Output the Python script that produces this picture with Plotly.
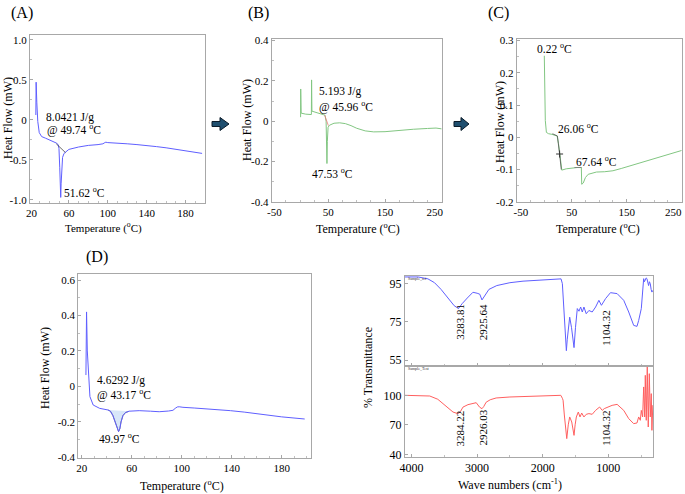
import plotly.graph_objects as go

W, H = 685, 494
FONT = "'Liberation Serif', 'Times New Roman', Times, serif"
NB = "\u00a0"

# ---------------- data ----------------
# (A) DSC
A_temp = [26.0, 26.3, 27.0, 28.0, 29.5, 32, 36, 40, 44, 47, 49, 49.8, 50.6, 51.2, 51.6, 52.0, 52.6, 53.5, 55, 57, 60, 70, 80, 90, 95, 97, 98, 100, 110, 120, 130, 140, 150, 160, 170, 180, 190, 197]
A_heat = [0.06, 0.47, 0.22, -0.02, -0.16, -0.21, -0.23, -0.25, -0.27, -0.29, -0.31, -0.36, -0.6, -0.85, -0.97, -0.8, -0.6, -0.47, -0.42, -0.40, -0.37, -0.34, -0.32, -0.31, -0.30, -0.285, -0.28, -0.285, -0.29, -0.30, -0.31, -0.32, -0.335, -0.35, -0.37, -0.39, -0.41, -0.42]
A_base_temp = [47.0, 56.5]
A_base_heat = [-0.30, -0.41]

# (B) DSC
B_temp = [1.0, 1.2, 2.0, 10, 20, 20.4, 21.0, 30, 40, 44, 46, 47.0, 47.5, 48.2, 49.5, 52, 60, 70, 80, 90, 100, 115, 130, 150, 175, 200, 225, 240, 250]
B_heat = [0.02, 0.16, 0.04, 0.035, 0.033, 0.205, 0.05, 0.042, 0.035, 0.03, 0.0, -0.15, -0.21, -0.1, -0.03, -0.02, -0.01, -0.008, -0.012, -0.022, -0.035, -0.048, -0.053, -0.052, -0.045, -0.04, -0.036, -0.034, -0.038]
B_mark_temp = [43.5, 47.0, 50.0]
B_mark_heat = [0.03, 0.0, -0.022]

# (C) DSC
C_temp = [0.2, 1.0, 2.0, 4.0, 8, 14, 20, 23.5, 26, 28, 30.5, 32, 40, 50, 60, 67.5, 68.2, 71, 75, 80, 95, 110, 125, 140, 160, 180, 200, 220, 240, 250]
C_heat = [0.253, 0.15, 0.052, 0.015, 0.011, 0.009, 0.007, 0.004, -0.02, -0.052, -0.1, -0.102, -0.098, -0.095, -0.094, -0.094, -0.146, -0.142, -0.125, -0.115, -0.108, -0.107, -0.104, -0.097, -0.087, -0.078, -0.068, -0.058, -0.048, -0.041]
C_mark1_temp = [15, 24, 28, 31]
C_mark1_heat = [0.011, 0.004, -0.052, -0.1]
C_mark2_temp = [55, 68]
C_mark2_heat = [-0.094, -0.094]
C_xticks = [-50, 50, 150, 250]

# (D) DSC
D_temp = [23.4, 23.9, 24.5, 25.2, 26.6, 29.2, 34.4, 41, 43, 45, 47, 48.5, 49.5, 50.5, 51.5, 53, 55, 58, 66, 75, 82, 89.5, 93, 94.8, 96.5, 98, 101, 110, 124, 139, 150, 165, 180, 198.4]
D_heat = [0.064, 0.42, 0.2, 0.083, -0.058, -0.105, -0.124, -0.133, -0.14, -0.165, -0.21, -0.245, -0.255, -0.24, -0.2, -0.165, -0.148, -0.14, -0.137, -0.14, -0.143, -0.139, -0.135, -0.124, -0.116, -0.115, -0.118, -0.122, -0.128, -0.137, -0.145, -0.16, -0.172, -0.184]
D_peak_from, D_peak_to = 41, 58

# (E) FTIR
wn_top = [4100, 3900, 3750, 3650, 3550, 3450, 3350, 3284, 3230, 3150, 3064, 3000, 2960, 2926, 2880, 2820, 2700, 2500, 2300, 2000, 1800, 1720, 1700, 1685, 1665, 1650, 1639, 1625, 1600, 1588, 1560, 1540, 1522, 1500, 1472, 1446, 1421, 1396, 1371, 1336, 1295, 1245, 1193, 1143, 1104, 1041, 966, 865, 764, 688, 612, 562, 536, 496, 470, 460, 448, 435, 422, 410, 398, 385, 372, 359, 346, 334, 320]
T_top = [98.5, 98.5, 97.5, 95.5, 92, 88, 83.5, 82, 84.5, 87.5, 90.5, 90, 89.5, 86.5, 89, 92, 94, 95.5, 96.3, 97, 97.5, 97.5, 95, 85, 72, 63, 60, 66, 76, 77.5, 72, 65, 61.6, 72, 82, 80.6, 82.8, 80.2, 82.8, 79.3, 81, 80.2, 82.8, 86.3, 83.7, 87.2, 90.3, 89.8, 86.3, 80.2, 73.2, 72.7, 75.8, 82, 93, 97.6, 96, 96.7, 98, 97.6, 95, 94, 96, 95, 92, 90.6, 91.5]
wn_bot = [4100, 3900, 3722, 3600, 3519, 3440, 3368, 3300, 3284, 3250, 3216, 3140, 3064, 3014, 2963, 2926, 2900, 2862, 2800, 2710, 2500, 2204, 2000, 1749, 1724, 1700, 1689, 1670, 1649, 1633, 1610, 1588, 1557, 1540, 1522, 1505, 1487, 1457, 1431, 1405, 1371, 1336, 1295, 1245, 1193, 1132, 1104, 1092, 1060, 1017, 941, 865, 764, 688, 612, 562, 536, 511, 496, 476, 460, 445, 435, 420, 405, 390, 374, 359, 344, 334, 320]
T_bot = [100, 100, 99.3, 96, 91.5, 87, 83, 81.5, 81.4, 84, 88, 90.5, 91.5, 92.5, 88, 86.4, 88.5, 93, 95.5, 97.3, 98.3, 99, 99.5, 100, 100, 97, 95, 80, 61, 56, 70, 78, 72.9, 66, 59.3, 70, 78, 83, 78, 82, 78, 80.7, 81.4, 80.7, 84.7, 88.1, 85.5, 84.7, 86.5, 88, 89.8, 90.8, 84.7, 76.3, 71.2, 71.9, 78, 74.6, 84.7, 78, 108.5, 78, 120.3, 74.6, 128.8, 67.8, 122, 78, 101.7, 64.4, 90]
top_peak_wn = [3283.81, 2925.64, 1104.32]
top_peak_pos = [75, 75, 71.5]
bot_peak_wn = [3284.22, 2926.03, 1104.32]
bot_peak_pos = [66, 67.5, 66]

# ---------------- styling ----------------
BLUE = "rgb(95,95,255)"
GREEN = "rgb(130,198,130)"
RED = "rgb(255,95,95)"
FRAME = "#a8a8a8"


def px(x):
    return x / W


def py(y):
    return 1 - y / H


fig = go.Figure()


def line(x, y, color, ax, width=1.0, **kw):
    fig.add_trace(go.Scatter(x=x, y=y, mode="lines", line=dict(color=color, width=width),
                             xaxis="x" + ax, yaxis="y" + ax, showlegend=False,
                             hoverinfo="skip", **kw))


# A
line(A_temp, A_heat, BLUE, "")
line(A_base_temp, A_base_heat, "#444444", "", 0.8)
# B
line(B_temp, B_heat, GREEN, "2")
line(B_mark_temp, B_mark_heat, "rgb(230,120,120)", "2", 0.8)
# C
line(C_temp, C_heat, GREEN, "3")
line(C_mark1_temp, C_mark1_heat, "#555555", "3", 0.8)
line(C_mark2_temp, C_mark2_heat, "#777777", "3", 0.8)
fig.add_trace(go.Scatter(x=[C_mark1_temp[2]], y=[C_mark1_heat[2]], mode="markers",
                         marker=dict(symbol="cross-thin", size=5, line=dict(color="#333", width=1)),
                         xaxis="x3", yaxis="y3", showlegend=False, hoverinfo="skip"))
# D
fx = [t for t in D_temp if D_peak_from <= t <= D_peak_to]
fy = [h for t, h in zip(D_temp, D_heat) if D_peak_from <= t <= D_peak_to]
fig.add_trace(go.Scatter(x=fx, y=fy, mode="lines", fill="toself",
                         fillcolor="rgba(190,215,245,0.6)", line=dict(color="#666666", width=0.8),
                         xaxis="x4", yaxis="y4", showlegend=False, hoverinfo="skip"))
line(D_temp, D_heat, BLUE, "4")
# E
line(wn_top, T_top, BLUE, "5")
line(wn_bot, T_bot, RED, "6")


def axis(dom, rng, tickvals, ticktext=None, anchor=None, minor_dtick=None, labels=True, fs=11):
    d = dict(domain=dom, range=rng, tickmode="array", tickvals=tickvals,
             ticktext=ticktext if ticktext is not None else [str(v) for v in tickvals],
             showline=True, mirror=True, linecolor=FRAME, linewidth=1,
             ticks="inside", ticklen=3, tickcolor=FRAME, showgrid=False, zeroline=False,
             showticklabels=labels, automargin=False, ticklabeloverflow="allow",
             tickfont=dict(family=FONT, size=fs, color="black"), fixedrange=True)
    if anchor:
        d["anchor"] = anchor
    if minor_dtick:
        d["minor"] = dict(ticks="inside", ticklen=2, tickcolor="#c0c0c0", dtick=minor_dtick, tick0=0)
    return d


layout_axes = dict(
    xaxis=axis([px(30), px(205)], [20, 200], [20, 60, 100, 140, 180],
               [NB + "20", "60", "100", "140", "180"], anchor="y", minor_dtick=10),
    yaxis=axis([py(203), py(35)], [-1.04, 1.06], [-1.0, -0.5, 0, 0.5, 1.0],
               ["-1.0", "-0.5", "0", "0.5", "1.0"], anchor="x", minor_dtick=0.25),
    xaxis2=axis([px(271.7), px(441.7)], [-50, 250], [-50, 50, 150, 250],
                [NB * 2 + "-50", "50", "150", "250" + NB * 5], anchor="y2", minor_dtick=25),
    yaxis2=axis([py(202), py(39)], [-0.401, 0.408], [-0.4, -0.2, 0, 0.2, 0.4],
                ["-0.4", "-0.2", "0", "0.2", "0.4"], anchor="x2", minor_dtick=0.1),
    xaxis3=axis([px(516.7), px(681.7)], [-50, 250], C_xticks,
                [NB * 3 + "-50", "50", "150", ""], anchor="y3", minor_dtick=25),
    yaxis3=axis([py(202), py(39)], [-0.201, 0.305], [-0.2, -0.1, 0, 0.1, 0.2, 0.3],
                ["-0.2", "-0.1", "0", "0.1", "0.2", "0.3"], anchor="x3", minor_dtick=0.05),
    xaxis4=axis([px(78.3), px(310.7)], [17.3, 203.2], [20, 60, 100, 140, 180], anchor="y4", minor_dtick=10),
    yaxis4=axis([py(458), py(274)], [-0.404, 0.634], [-0.4, -0.2, 0, 0.2, 0.4, 0.6],
                ["-0.4", "-0.2", "0", "0.2", "0.4", "0.6"], anchor="x4", minor_dtick=0.1),
    xaxis5=axis([px(405), px(653.3)], [4100, 313], [4000, 3000, 2000, 1000], anchor="y5",
                minor_dtick=500, labels=False, fs=12),
    yaxis5=axis([py(366), py(276)], [52.0, 99.0], [55, 75, 95], anchor="x5", fs=12),
    xaxis6=axis([px(405), px(653.3)], [4100, 313], [4000, 3000, 2000, 1000], anchor="y6", minor_dtick=500, fs=12),
    yaxis6=axis([py(457), py(366)], [37.3, 129.8], [40, 70, 100], anchor="x6", fs=12),
)

ann = []


def txt(text, x, y, size=11.5, xref="paper", yref="paper", xanchor="center", yanchor="middle", angle=0, color="black"):
    ann.append(dict(text=text, x=x, y=y, xref=xref, yref=yref, xanchor=xanchor, yanchor=yanchor,
                    textangle=angle, showarrow=False, borderpad=0,
                    font=dict(family=FONT, size=size, color=color)))


deg = "<sup>o</sup>C"
# panel labels
txt("(A)", px(22), py(13), 16)
txt("(B)", px(258), py(13), 16)
txt("(C)", px(498), py(13), 16)
txt("(D)", px(97), py(257), 16)
# axis titles
for xx, yy in [(8, 118), (247, 120), (500, 122), (45, 368)]:
    txt("Heat Flow (mW)", px(xx), py(yy), 12, angle=-90)
txt("Temperature (" + deg + ")", px(103), py(227), 11)
for xx, yy in [(358, 228), (598, 228), (182, 485)]:
    txt("Temperature (" + deg + ")", px(xx), py(yy), 12)
txt("% Transmittance", px(368), py(368), 12, angle=-90)
txt("Wave numbers (cm<sup>-1</sup>)", px(510), py(484), 12)
# last tick label of (C), kept inside the figure edge
txt(str(C_xticks[-1]), px(683), py(212), 11, xanchor="right")

# in-plot labels
txt("8.0421 J/g", 35.5, 0.03, xref="x", yref="y", xanchor="left")
txt("@ 49.74 " + deg, 36.5, -0.12, xref="x", yref="y", xanchor="left")
txt("51.62 " + deg, 54.0, -0.9, xref="x", yref="y", xanchor="left")
txt("5.193 J/g", 31.5, 0.145, xref="x2", yref="y2", xanchor="left")
txt("@ 45.96 " + deg, 31.5, 0.075, xref="x2", yref="y2", xanchor="left")
txt("47.53 " + deg, 19.0, -0.257, xref="x2", yref="y2", xanchor="left")
txt("0.22 " + deg, -15.5, 0.277, xref="x3", yref="y3", xanchor="left")
txt("26.06 " + deg, 22.5, 0.029, xref="x3", yref="y3", xanchor="left")
txt("67.64 " + deg, 56.5, -0.074, xref="x3", yref="y3", xanchor="left")
txt("4.6292 J/g", 31.6, 0.032, xref="x4", yref="y4", xanchor="left")
txt("@ 43.17 " + deg, 31.6, -0.045, xref="x4", yref="y4", xanchor="left")
txt("49.97 " + deg, 32.9, -0.293, xref="x4", yref="y4", xanchor="left")
for w, p in zip(top_peak_wn, top_peak_pos):
    txt(f"{w:.2f}", w - 20 if w > 2000 else w - 70, p, size=11, xref="x5", yref="y5", angle=-90)
for w, p in zip(bot_peak_wn, bot_peak_pos):
    txt(f"{w:.2f}", w - 20 if w > 2000 else w - 70, p, size=11, xref="x6", yref="y6", angle=-90)
txt("Sample_ref", px(407), py(278), 4, xanchor="left", color="#333")
txt("Sample_Test", px(407), py(368), 4, xanchor="left", color="#333")


def arrow_path(x0, xm, x1, yc):
    pts = [(x0, yc - 2.5), (xm, yc - 2.5), (xm, yc - 6.5), (x1, yc), (xm, yc + 6.5), (xm, yc + 2.5), (x0, yc + 2.5)]
    return "M " + " L ".join(f"{px(a):.5f},{py(b):.5f}" for a, b in pts) + " Z"


shapes = [
    dict(type="path", xref="paper", yref="paper", path=arrow_path(212, 220, 229, 124),
         fillcolor="#1f4f6f", line=dict(color="#0a1a28", width=1)),
    dict(type="path", xref="paper", yref="paper", path=arrow_path(454, 461, 469, 124),
         fillcolor="#1f4f6f", line=dict(color="#0a1a28", width=1)),
]

fig.update_layout(width=W, height=H, autosize=False,
                  margin=dict(l=0, r=0, t=0, b=0, pad=0, autoexpand=False),
                  paper_bgcolor="white", plot_bgcolor="white", showlegend=False,
                  annotations=ann, shapes=shapes, font=dict(family=FONT, size=12, color="black"),
                  **layout_axes)

fig.write_html("out.html", config={"displayModeBar": False})
